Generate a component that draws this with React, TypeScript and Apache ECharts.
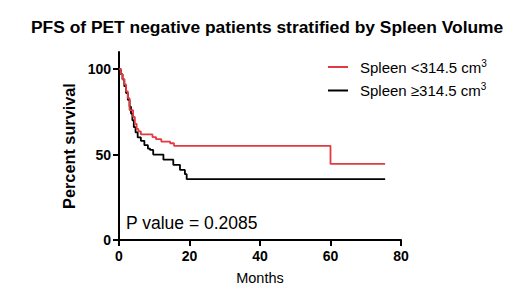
import React, { useEffect, useRef } from "react";
import * as echarts from "echarts";

const FONT = "'Liberation Sans', Arial, Helvetica, sans-serif";

const titleText = "PFS of PET negative patients stratified by Spleen Volume";
const pValueText = "P value = 0.2085";
const xTicks = [0, 20, 40, 60, 80];
const yTicks = [0, 50, 100];

const seriesNames = ["Spleen <314.5 cm3", "Spleen \u2265314.5 cm3"];

// Kaplan-Meier step points: [month, percent survival]
const redMonths = [0, 0.5, 1.0, 1.5, 2.0, 2.5, 3.0, 4.0, 4.5, 5.0, 5.5, 6.2, 9.5, 10.5, 12.0, 14.5, 15.6, 60.0, 75.5];
const redSurv = [100, 97, 94, 91, 87, 83, 76, 72, 68, 65, 63.5, 61.8, 60.2, 59.0, 57.6, 56.6, 55.1, 44.5, 44.5];

const blackMonths = [0, 0.5, 1.0, 1.5, 2.0, 2.5, 3.0, 3.4, 3.8, 4.2, 4.7, 5.3, 6.2, 7.2, 8.2, 8.8, 9.7, 12.6, 15.4, 17.3, 18.7, 19.2, 75.5];
const blackSurv = [100, 97, 94, 90, 86, 82, 78, 74, 70, 66, 63, 60, 58, 55.5, 53.5, 52.7, 50, 47, 44, 41, 38.5, 35.6, 35.6];

const redColor = "#e23a40";
const blackColor = "#000000";

export default function App() {
  const ref = useRef<HTMLDivElement>(null);
  useEffect(() => {
    if (!ref.current) return;
    const chart = echarts.init(ref.current, undefined, { renderer: "svg" });
    const redData = redMonths.map((m, i) => [m, redSurv[i]]);
    const blackData = blackMonths.map((m, i) => [m, blackSurv[i]]);
    const legendRich = {
      a: { fontFamily: FONT, fontSize: 15, color: "#000", padding: [0, 0, 0, 7] },
      sup: { fontFamily: FONT, fontSize: 10, color: "#000", verticalAlign: "top", padding: [0, 0, 8, 0] },
    };
    chart.setOption({
      animation: false,
      backgroundColor: "#fff",
      title: {
        text: titleText,
        left: 31,
        top: 18,
        padding: 0,
        textStyle: { fontFamily: FONT, fontSize: 17.4, fontWeight: "bold", color: "#000" },
      },
      legend: {
        orient: "vertical",
        left: 328,
        top: 58,
        padding: 0,
        itemWidth: 20,
        itemHeight: 2,
        itemGap: 7,
        icon: "rect",
        data: seriesNames,
        formatter: (name: string) => `{a|${name.slice(0, -1)}}{sup|3}`,
        textStyle: { fontFamily: FONT, fontSize: 15, color: "#000", rich: legendRich },
      },
      grid: { left: 119, right: 119, top: 52, bottom: 59, containLabel: false },
      xAxis: {
        type: "value",
        min: 0,
        max: 80,
        interval: 20,
        name: "Months",
        nameLocation: "middle",
        nameGap: 30,
        nameTextStyle: { fontFamily: FONT, fontSize: 14.5, color: "#000" },
        axisLine: { show: true, lineStyle: { color: "#000", width: 2 } },
        axisTick: { show: true, length: 6, lineStyle: { color: "#000", width: 2 } },
        axisLabel: {
          customValues: xTicks,
          fontFamily: FONT,
          fontSize: 14,
          fontWeight: "bold",
          color: "#000",
          margin: 9,
        },
        splitLine: { show: false },
      },
      yAxis: {
        type: "value",
        min: 0,
        max: 110,
        name: "Percent survival",
        nameLocation: "middle",
        nameGap: 35,
        nameTextStyle: { fontFamily: FONT, fontSize: 16.3, fontWeight: "bold", color: "#000" },
        axisLine: { show: true, lineStyle: { color: "#000", width: 2 } },
        axisTick: { show: true, length: 6, customValues: yTicks, lineStyle: { color: "#000", width: 2 } },
        axisLabel: {
          customValues: yTicks,
          fontFamily: FONT,
          fontSize: 14,
          fontWeight: "bold",
          color: "#000",
          margin: 8,
        },
        splitLine: { show: false },
      },
      graphic: [
        {
          type: "text",
          left: 126,
          top: 214,
          style: { text: pValueText, fontFamily: FONT, fontSize: 17.5, fill: "#000" },
        },
      ],
      series: [
        {
          name: seriesNames[0],
          type: "line",
          step: "end",
          data: redData,
          symbol: "none",
          lineStyle: { color: redColor, width: 1.8 },
          itemStyle: { color: redColor },
          z: 3,
        },
        {
          name: seriesNames[1],
          type: "line",
          step: "end",
          data: blackData,
          symbol: "none",
          lineStyle: { color: blackColor, width: 1.8 },
          itemStyle: { color: blackColor },
          z: 2,
        },
      ],
    });
    return () => chart.dispose();
  }, []);
  return <div ref={ref} style={{ width: 520, height: 299, position: "absolute", left: 0, top: 0 }} />;
}
